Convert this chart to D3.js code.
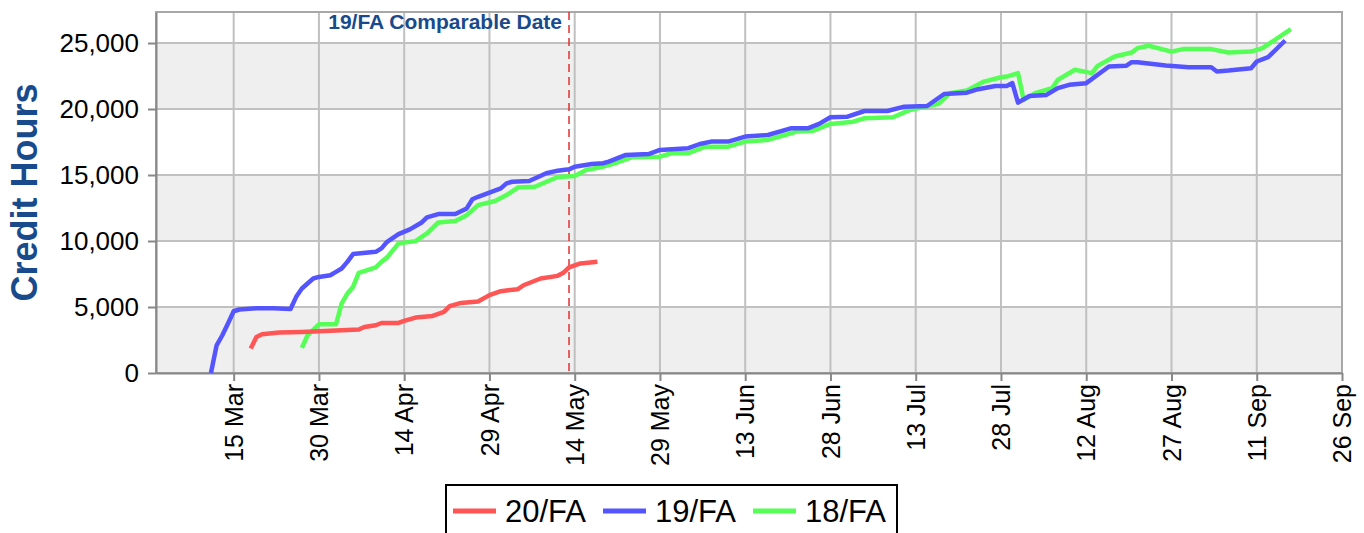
<!DOCTYPE html>
<html lang="en">
<head>
  <meta charset="UTF-8">
  <title>Credit Hours</title>
  <style>
    body { margin: 0; background: #fff; }
    text { font-family: "Liberation Sans", Arial, sans-serif; }
  </style>
</head>
<body>
  <script src="https://d3js.org/d3.v7.min.js"></script>
  <script>
    // series: [MM-DD, credit hours]
    const fa20 = [
      ['03-18', 1850], ['03-19', 2730], ['03-20', 2940], ['03-23', 3070], ['03-27', 3110],
      ['03-30', 3160], ['04-02', 3220], ['04-06', 3290], ['04-07', 3490], ['04-09', 3620],
      ['04-10', 3790], ['04-13', 3790], ['04-14', 3950], ['04-16', 4200], ['04-19', 4320],
      ['04-21', 4630], ['04-22', 5060], ['04-24', 5310], ['04-27', 5420], ['04-29', 5900],
      ['05-01', 6200], ['05-04', 6350], ['05-05', 6650], ['05-08', 7160], ['05-11', 7360],
      ['05-12', 7590], ['05-13', 8000], ['05-15', 8300], ['05-18', 8420]
    ]
    const fa19 = [
      ['03-11', 0], ['03-12', 2100], ['03-13', 2860], ['03-14', 3750], ['03-15', 4680],
      ['03-16', 4810], ['03-19', 4900], ['03-22', 4900], ['03-25', 4850], ['03-26', 5770],
      ['03-27', 6400], ['03-29', 7160], ['03-30', 7280], ['04-01', 7410], ['04-02', 7660],
      ['04-03', 7920], ['04-04', 8420], ['04-05', 9010], ['04-09', 9180], ['04-10', 9440],
      ['04-11', 9940], ['04-13', 10520], ['04-15', 10880], ['04-17', 11380], ['04-18', 11790],
      ['04-20', 12040], ['04-23', 12040], ['04-25', 12470], ['04-26', 13160], ['04-27', 13350],
      ['04-29', 13660], ['05-01', 13990], ['05-02', 14370], ['05-03', 14490], ['05-06', 14550],
      ['05-09', 15130], ['05-11', 15330], ['05-13', 15430], ['05-14', 15630], ['05-17', 15830],
      ['05-19', 15890], ['05-20', 16010], ['05-23', 16520], ['05-27', 16590], ['05-29', 16900],
      ['06-03', 17030], ['06-05', 17350], ['06-07', 17530], ['06-10', 17530], ['06-13', 17910],
      ['06-17', 18030], ['06-21', 18540], ['06-24', 18540], ['06-26', 18870], ['06-28', 19380],
      ['07-01', 19420], ['07-04', 19850], ['07-08', 19850], ['07-11', 20180], ['07-15', 20230],
      ['07-18', 21140], ['07-22', 21240], ['07-24', 21500], ['07-27', 21750], ['07-29', 21750],
      ['07-30', 21960], ['07-31', 20480], ['08-02', 20990], ['08-05', 21070], ['08-07', 21580],
      ['08-09', 21830], ['08-12', 21960], ['08-16', 23220], ['08-19', 23270], ['08-20', 23550],
      ['08-21', 23550], ['08-26', 23290], ['08-30', 23170], ['09-03', 23170], ['09-04', 22840],
      ['09-06', 22910], ['09-10', 23090], ['09-11', 23600], ['09-13', 23930], ['09-16', 25190]
    ]
    const fa18 = [
      ['03-27', 1900], ['03-28', 2860], ['03-30', 3690], ['04-02', 3690], ['04-03', 5270],
      ['04-04', 6020], ['04-05', 6520], ['04-06', 7590], ['04-09', 8000], ['04-10', 8420],
      ['04-11', 8760], ['04-13', 9820], ['04-16', 9990], ['04-18', 10580], ['04-20', 11410],
      ['04-23', 11510], ['04-25', 11960], ['04-27', 12720], ['04-30', 13030], ['05-02', 13480],
      ['05-04', 14050], ['05-07', 14110], ['05-11', 14850], ['05-14', 14920], ['05-16', 15380],
      ['05-19', 15630], ['05-21', 15890], ['05-24', 16340], ['05-29', 16390], ['05-31', 16650],
      ['06-03', 16650], ['06-06', 17150], ['06-10', 17150], ['06-13', 17530], ['06-17', 17660],
      ['06-20', 18030], ['06-22', 18290], ['06-25', 18360], ['06-28', 18870], ['07-02', 19040],
      ['07-04', 19300], ['07-09', 19380], ['07-12', 19930], ['07-17', 20390], ['07-19', 21200],
      ['07-22', 21400], ['07-25', 22080], ['07-28', 22410], ['07-29', 22460], ['07-31', 22720],
      ['08-01', 20690], ['08-03', 21200], ['08-06', 21580], ['08-07', 22210], ['08-10', 22970],
      ['08-13', 22720], ['08-14', 23270], ['08-17', 23980], ['08-20', 24280], ['08-21', 24610],
      ['08-23', 24790], ['08-27', 24350], ['08-29', 24540], ['09-03', 24540], ['09-06', 24280],
      ['09-10', 24350], ['09-12', 24610], ['09-17', 26050]
    ]
    const seriesNames = ['20/FA', '19/FA', '18/FA']
    const seriesColors = ['#ff5555', '#5555ff', '#55ff55']
    const xTicks = ['03-15', '03-30', '04-14', '04-29', '05-14', '05-29', '06-13',
      '06-28', '07-13', '07-28', '08-12', '08-27', '09-11', '09-26']
    const yTicks = [0, 5000, 10000, 15000, 20000, 25000]
    const comparableDate = '05-13'
    const comparableLabel = '19/FA Comparable Date'

    const parse = s => d3.timeParse('%Y-%m-%d')('2020-' + s)

    const width = 1364
    const height = 533
    const margin = { left: 156, top: 12, right: 22, bottom: 160 }
    const plotW = width - margin.left - margin.right
    const plotH = height - margin.top - margin.bottom

    const svg = d3.select('body')
      .append('svg')
      .attr('width', width)
      .attr('height', height)

    const x = d3.scaleTime()
      .domain([new Date(2020, 2, 1, 8), parse('09-26')])
      .range([0, plotW])
    const y = d3.scaleLinear()
      .domain([0, 27350])
      .range([plotH, 0])

    const g = svg.append('g')
      .attr('transform', `translate(${margin.left},${margin.top})`)

    // alternating bands
    const bands = yTicks.map((v, i) => [v, i + 1 < yTicks.length ? yTicks[i + 1] : y.domain()[1]])
    g.selectAll('.band')
      .data(bands)
      .enter()
      .append('rect')
      .attr('x', 0)
      .attr('width', plotW)
      .attr('y', d => y(d[1]))
      .attr('height', d => y(d[0]) - y(d[1]))
      .attr('fill', (d, i) => i % 2 === 0 ? '#efefef' : '#ffffff')

    // grid
    g.selectAll('.vgrid')
      .data(xTicks.map(parse))
      .enter()
      .append('line')
      .attr('x1', d => x(d))
      .attr('x2', d => x(d))
      .attr('y1', 0)
      .attr('y2', plotH)
      .attr('stroke', '#c0c0c0')
      .attr('stroke-width', 2)
    g.selectAll('.hgrid')
      .data(yTicks)
      .enter()
      .append('line')
      .attr('x1', 0)
      .attr('x2', plotW)
      .attr('y1', d => y(d))
      .attr('y2', d => y(d))
      .attr('stroke', '#c0c0c0')
      .attr('stroke-width', 2)

    g.append('rect')
      .attr('width', plotW)
      .attr('height', plotH)
      .attr('fill', 'none')
      .attr('stroke', '#a8a8a8')
      .attr('stroke-width', 2)

    // axes
    const xAxis = g.append('g')
      .attr('transform', `translate(0,${plotH})`)
      .call(d3.axisBottom(x)
        .tickValues(xTicks.map(parse))
        .tickFormat(d3.timeFormat('%-d %b'))
        .tickSize(8)
        .tickSizeOuter(0))
    xAxis.select('.domain').attr('stroke', '#888').attr('stroke-width', 2)
    xAxis.selectAll('.tick line').attr('stroke', '#888').attr('stroke-width', 2)
    xAxis.selectAll('.tick text')
      .attr('font-size', 25)
      .attr('font-family', '"Liberation Sans", Arial, sans-serif')
      .attr('fill', '#000')
      .attr('transform', 'rotate(-90)')
      .attr('text-anchor', 'end')
      .attr('x', -11)
      .attr('y', 0)
      .attr('dy', '0.35em')

    const yAxis = g.append('g')
      .call(d3.axisLeft(y)
        .tickValues(yTicks)
        .tickFormat(d3.format(','))
        .tickSize(8)
        .tickPadding(9)
        .tickSizeOuter(0))
    yAxis.select('.domain').attr('stroke', '#888').attr('stroke-width', 2)
    yAxis.selectAll('.tick line').attr('stroke', '#888').attr('stroke-width', 2)
    yAxis.selectAll('.tick text')
      .attr('font-size', 26)
      .attr('font-family', '"Liberation Sans", Arial, sans-serif')
      .attr('fill', '#000')

    // comparable date marker
    const cx = x(parse(comparableDate))
    g.append('line')
      .attr('x1', cx)
      .attr('x2', cx)
      .attr('y1', 0)
      .attr('y2', plotH)
      .attr('stroke', '#e03030')
      .attr('stroke-width', 1.5)
      .attr('stroke-dasharray', '8,5')
    g.append('text')
      .attr('x', cx - 7)
      .attr('y', 17)
      .attr('text-anchor', 'end')
      .attr('font-size', 21)
      .attr('font-weight', 'bold')
      .attr('fill', '#184a8c')
      .text(comparableLabel)

    // lines
    const line = d3.line()
      .x(d => x(parse(d[0])))
      .y(d => y(d[1]))
    const allSeries = [fa20, fa19, fa18]
    // draw 18 first, then 19, then 20 on top
    ;[2, 1, 0].forEach(i => {
      g.append('path')
        .datum(allSeries[i])
        .attr('d', line)
        .attr('fill', 'none')
        .attr('stroke', seriesColors[i])
        .attr('stroke-width', 4.5)
        .attr('stroke-linejoin', 'round')
    })

    // y title
    svg.append('text')
      .attr('transform', `translate(37,${margin.top + plotH / 2}) rotate(-90)`)
      .attr('text-anchor', 'middle')
      .attr('font-size', 36)
      .attr('font-weight', 'bold')
      .attr('fill', '#184a8c')
      .text('Credit Hours')

    // legend
    const legend = svg.append('g').attr('transform', 'translate(446,485)')
    legend.append('rect')
      .attr('width', 451)
      .attr('height', 70)
      .attr('fill', '#fff')
      .attr('stroke', '#000')
      .attr('stroke-width', 2)
    const items = legend.selectAll('.item')
      .data(seriesNames)
      .enter()
      .append('g')
      .attr('transform', (d, i) => `translate(${7 + i * 150},0)`)
    items.append('line')
      .attr('x1', 0)
      .attr('x2', 43)
      .attr('y1', 26)
      .attr('y2', 26)
      .attr('stroke', (d, i) => seriesColors[i])
      .attr('stroke-width', 5)
    items.append('text')
      .attr('x', 52)
      .attr('y', 37)
      .attr('font-size', 31)
      .attr('fill', '#000')
      .text(d => d)
  </script>
</body>
</html>
